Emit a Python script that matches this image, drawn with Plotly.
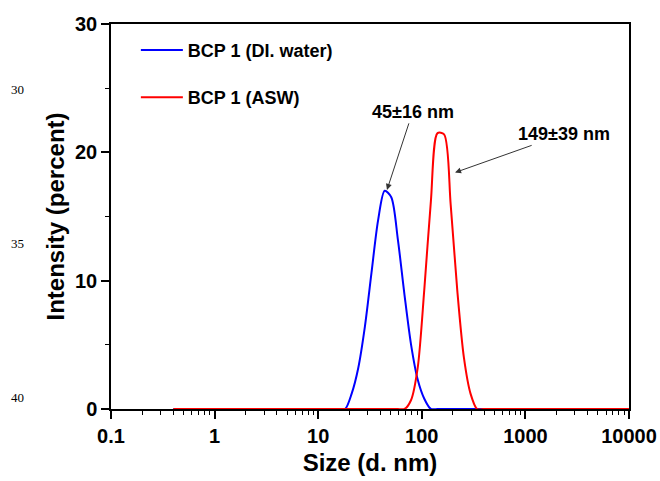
import math
import plotly.graph_objects as go

# DLS size bins (nm)
sizes = [0.4, 0.4632, 0.5365, 0.6213, 0.7195, 0.8332, 0.9649, 1.117, 1.294, 1.499,
         1.736, 2.010, 2.328, 2.696, 3.122, 3.615, 4.187, 4.849, 5.615, 6.503,
         7.531, 8.721, 10.10, 11.70, 13.54, 15.69, 18.17, 21.04, 24.36, 28.21,
         32.67, 37.84, 43.82, 50.75, 58.77, 68.06, 78.82, 91.28, 105.7, 122.4,
         141.8, 164.2, 190.1, 220.2, 255.0, 295.3, 342.0, 396.1, 458.7, 531.2,
         615.1, 712.4, 825.0, 955.4, 1106, 1281, 1484, 1718, 1990, 2305,
         2669, 3091, 3580, 4145, 4801, 5560, 6439, 7456, 8635, 10000]

# intensity (%) - BCP 1 in DI water
water = [0]*26 + [0, 1.2, 3.2, 6.4, 10.6, 14.7, 17.0, 16.5, 13.2, 8.9,
                  5.0, 2.3, 0.8, 0] + [0]*30

# intensity (%) - BCP 1 in ASW
asw = [0]*35 + [0, 0.7, 3.2, 9.3, 16.2, 21.5, 21.4, 15.9, 9.2, 4.0,
                1.2, 0] + [0]*23

series_names = ["BCP 1 (DI. water)", "BCP 1 (ASW)"]
series_colors = ["#0000ff", "#ff0000"]

x_ticks = [0.1, 1, 10, 100, 1000, 10000]
x_ticklabels = ["0.1", "1", "10", "100", "1000", "10000"]
x_minor = [m * d for d in [0.1, 1, 10, 100, 1000] for m in range(2, 10)]
y_ticks = [0, 10, 20, 30]
y_minor = [5, 15, 25]

peak_labels = ["45±16 nm", "149±39 nm"]
peak_heads = [(45.8, 17.0), (205, 18.4)]   # arrow tips (size nm, intensity %)

margin_labels = ["30", "35", "40"]          # manuscript line numbers

fig = go.Figure()
for name, vals, col, grp in zip(series_names, [water, asw], series_colors, ["a", "b"]):
    fig.add_trace(go.Scatter(x=sizes, y=vals, mode="lines", name=name,
                             legendgroup=grp,
                             line=dict(color=col, width=2, shape="spline", smoothing=0.8)))

font_main = "Liberation Sans, Arial, sans-serif"

fig.update_layout(
    width=660, height=481,
    margin=dict(l=111, r=31, t=24, b=72, autoexpand=False),
    paper_bgcolor="white", plot_bgcolor="white",
    showlegend=True,
    legend=dict(x=0.048, y=0.98, xanchor="left", yanchor="top",
                bgcolor="rgba(0,0,0,0)", tracegroupgap=21, itemwidth=42,
                font=dict(family=font_main, size=18, color="black", weight="bold")),
    font=dict(family=font_main, color="black"),
)

fig.update_xaxes(
    type="log", range=[-1, 4], automargin=False,
    tickvals=x_ticks, ticktext=x_ticklabels,
    ticks="outside", ticklen=8, tickwidth=1.5, tickcolor="black",
    minor=dict(tickvals=x_minor, ticks="outside", ticklen=4, tickwidth=1.2,
               tickcolor="black", showgrid=False),
    showline=True, linecolor="black", linewidth=1.5, mirror=True,
    showgrid=False, zeroline=False,
    tickfont=dict(family=font_main, size=20, color="black", weight="bold"),
    title=dict(text="Size (d. nm)", standoff=8,
               font=dict(family=font_main, size=24, color="black", weight="bold")),
)
fig.update_yaxes(
    range=[0, 30], automargin=False, tickvals=y_ticks,
    ticks="outside", ticklen=8, tickwidth=1.5, tickcolor="black",
    minor=dict(tickvals=y_minor, ticks="outside", ticklen=4, tickwidth=1.2,
               tickcolor="black", showgrid=False),
    showline=True, linecolor="black", linewidth=1.5, mirror=True,
    showgrid=False, zeroline=False,
    tickfont=dict(family=font_main, size=20, color="black", weight="bold"),
    title=dict(text="Intensity (percent)", standoff=4,
               font=dict(family=font_main, size=24, color="black", weight="bold")),
)

# peak annotations with arrows
for lbl, (hx, hy), (ax, ay) in zip(peak_labels, peak_heads, [(26, -79), (110, -39)]):
    fig.add_annotation(x=math.log10(hx), y=hy, xref="x", yref="y", text=lbl,
                       showarrow=True, arrowhead=2, arrowsize=1.2, arrowwidth=1,
                       arrowcolor="#333", ax=ax, ay=ay, standoff=1,
                       font=dict(family=font_main, size=18, color="black", weight="bold"))

# manuscript line numbers in the left margin
for txt, yp in zip(margin_labels, [90, 243, 397]):
    fig.add_annotation(x=(17 - 111) / 518, y=(409 - yp) / 385, xref="paper", yref="paper",
                       xanchor="center", yanchor="middle",
                       text=txt, showarrow=False,
                       font=dict(family="Liberation Serif", size=13, color="black"))

fig.write_html("out.html",
               config={"displayModeBar": False},
               post_script="document.body.style.margin='0';document.body.style.overflow='hidden';")
